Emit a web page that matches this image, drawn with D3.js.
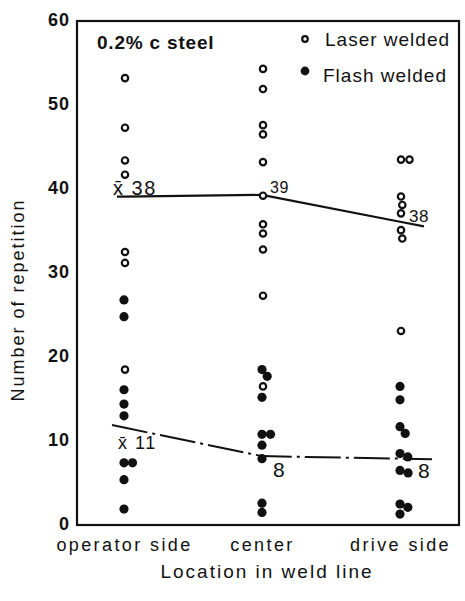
<!DOCTYPE html>
<html>
<head>
<meta charset="utf-8">
<script src="https://cdn.jsdelivr.net/npm/d3@7"></script>
<style>
  html, body { margin: 0; padding: 0; background: #fff; }
  svg { display: block; }
  text { font-family: "Liberation Sans", "DejaVu Sans", sans-serif; fill: #111; }
</style>
</head>
<body>
<svg id="chart" width="465" height="601"></svg>
<script>
// ---------- data ----------
const categories = ["operator side", "center", "drive side"];
const yTicks = [0, 10, 20, 30, 40, 50, 60];

const laserOperator = [53.2, 47.3, 43.4, 41.7, 32.5, 31.2, 18.5];
const laserCenter   = [54.3, 51.9, 47.6, 46.5, 43.2, 39.2, 35.8, 34.7, 32.8, 27.3, 16.5];
const laserDrive    = [43.5, 43.5, 39.1, 38.1, 37.1, 35.1, 34.1, 23.1];

const flashOperator = [26.8, 24.8, 16.1, 14.4, 13.0, 7.4, 7.4, 5.4, 1.9];
const flashCenter   = [18.5, 17.7, 15.2, 10.8, 10.8, 9.5, 7.9, 2.6, 1.5];
const flashDrive    = [16.5, 14.9, 11.7, 10.9, 8.5, 8.1, 6.5, 6.2, 2.5, 2.1, 1.3];

const laserMean = [39.1, 39.3, 36.1];   // drawn mean line, laser welded
const flashMean = [11.6, 8.2, 7.9];     // drawn mean line, flash welded
const laserMeanLabels = ["38", "39", "38"];
const flashMeanLabels = ["11", "8", "8"];

// ---------- layout ----------
const svg = d3.select("#chart");
const frame = { left: 77, right: 459, top: 21, bottom: 525 };

const y = d3.scaleLinear().domain([0, 60]).range([frame.bottom, frame.top]);
const x = d3.scalePoint().domain(categories).range([124, 400]);

// frame
svg.append("rect")
  .attr("x", frame.left).attr("y", frame.top)
  .attr("width", frame.right - frame.left).attr("height", frame.bottom - frame.top)
  .attr("fill", "none").attr("stroke", "#111").attr("stroke-width", 2.2);

// y axis labels
const yAxis = d3.axisLeft(y).tickValues(yTicks).tickSize(0).tickPadding(0).tickFormat(d3.format("d"));
const gy = svg.append("g").attr("transform", `translate(${frame.left - 7},0)`).call(yAxis);
gy.select(".domain").remove();
gy.selectAll("text")
  .attr("font-family", "Liberation Sans, DejaVu Sans, sans-serif")
  .attr("font-size", 18).attr("font-weight", "bold").attr("fill", "#111")
  .attr("letter-spacing", 1).attr("dy", "0.25em");

// x axis labels
const xAxis = d3.axisBottom(x).tickSize(0).tickPadding(0);
const gx = svg.append("g").attr("transform", `translate(0,${frame.bottom})`).call(xAxis);
gx.select(".domain").remove();
gx.selectAll("text")
  .attr("font-family", "Liberation Sans, DejaVu Sans, sans-serif")
  .attr("font-size", 18).attr("fill", "#111").attr("letter-spacing", 2.4)
  .attr("dy", null).attr("y", 26);

// axis titles
svg.append("text")
  .attr("x", 267).attr("y", 578).attr("text-anchor", "middle")
  .attr("font-size", 19).attr("letter-spacing", 2)
  .text("Location in weld line");
svg.append("text")
  .attr("transform", "translate(24,300) rotate(-90)")
  .attr("text-anchor", "middle")
  .attr("font-size", 18).attr("letter-spacing", 2)
  .text("Number of repetition");

// inner title
svg.append("text")
  .attr("x", 97).attr("y", 49)
  .attr("font-size", 19).attr("font-weight", "bold").attr("letter-spacing", 0.8)
  .text("0.2% c steel");

// ---------- mean lines ----------
function extendedPoints(means, leftPx, rightPx) {
  const pts = categories.map((c, i) => [x(c), y(means[i])]);
  const [p0, p1] = [pts[0], pts[1]];
  const s0 = (p1[1] - p0[1]) / (p1[0] - p0[0]);
  const start = [p0[0] - leftPx, p0[1] - s0 * leftPx];
  const [q0, q1] = [pts[1], pts[2]];
  const s1 = (q1[1] - q0[1]) / (q1[0] - q0[0]);
  const end = [q1[0] + rightPx, q1[1] + s1 * rightPx];
  return [start, ...pts, end];
}
const line = d3.line();
svg.append("path")
  .attr("d", line(extendedPoints(laserMean, 7, 24)))
  .attr("fill", "none").attr("stroke", "#111").attr("stroke-width", 2.2);
svg.append("path")
  .attr("d", line(extendedPoints(flashMean, 12, 32)))
  .attr("fill", "none").attr("stroke", "#111").attr("stroke-width", 2)
  .attr("stroke-dasharray", "36,5,3,5");

// ---------- points with dodge ----------
function dodge(values, cx, D) {
  const placed = [];
  values.slice().sort((a, b) => b - a).forEach(v => {
    const py = y(v);
    let px = cx;
    for (let iter = 0; iter < 20; iter++) {
      let moved = false;
      for (const p of placed) {
        const dy = Math.abs(p.y - py), dx = px - p.x;
        if (dy < D && Math.hypot(dx, dy) < D - 0.01) {
          px = p.x + Math.sqrt(D * D - dy * dy);
          moved = true;
        }
      }
      if (!moved) break;
    }
    placed.push({ x: px, y: py });
  });
  return placed;
}

const laserSets = [laserOperator, laserCenter, laserDrive];
const flashSets = [flashOperator, flashCenter, flashDrive];

categories.forEach((c, i) => {
  const lp = dodge(laserSets[i], x(c) + 1, 8.5);
  svg.append("g").selectAll("circle").data(lp).join("circle")
    .attr("cx", d => d.x).attr("cy", d => d.y).attr("r", 3.2)
    .attr("fill", "#fff").attr("stroke", "#111").attr("stroke-width", 2.2);
  const fp = dodge(flashSets[i], x(c), 8.5);
  svg.append("g").selectAll("circle").data(fp).join("circle")
    .attr("cx", d => d.x).attr("cy", d => d.y).attr("r", 4.6)
    .attr("fill", "#111");
});

// ---------- mean annotations ----------
const xbar = "x\u0304";
svg.append("text").attr("x", x(categories[0]) - 11).attr("y", y(laserMean[0]) - 2)
  .attr("font-size", 20).attr("letter-spacing", 1.5).text(xbar + " " + laserMeanLabels[0]);
svg.append("text").attr("x", x(categories[1]) + 8).attr("y", y(laserMean[1]) - 2)
  .attr("font-size", 16).attr("letter-spacing", 0.5).text(laserMeanLabels[1]);
svg.append("text").attr("x", x(categories[2]) + 9).attr("y", y(laserMean[2]) + 0)
  .attr("font-size", 17).attr("letter-spacing", 0.5).text(laserMeanLabels[2]);

svg.append("text").attr("x", x(categories[0]) - 6).attr("y", y(flashMean[0]) + 21)
  .attr("font-size", 18).attr("letter-spacing", 1.5).text(xbar + " " + flashMeanLabels[0]);
svg.append("text").attr("x", x(categories[1]) + 11).attr("y", y(flashMean[1]) + 21)
  .attr("font-size", 21).text(flashMeanLabels[1]);
svg.append("text").attr("x", x(categories[2]) + 18).attr("y", y(flashMean[2]) + 19)
  .attr("font-size", 21).text(flashMeanLabels[2]);

// ---------- legend ----------
const legend = svg.append("g");
legend.append("circle").attr("cx", 305).attr("cy", 39).attr("r", 2.8)
  .attr("fill", "#fff").attr("stroke", "#111").attr("stroke-width", 2.2);
legend.append("text").attr("x", 325).attr("y", 46)
  .attr("font-size", 19).attr("letter-spacing", 1).text("Laser welded");
legend.append("circle").attr("cx", 305).attr("cy", 71).attr("r", 4.4).attr("fill", "#111");
legend.append("text").attr("x", 323).attr("y", 82)
  .attr("font-size", 19).attr("letter-spacing", 1).text("Flash welded");
</script>
</body>
</html>
